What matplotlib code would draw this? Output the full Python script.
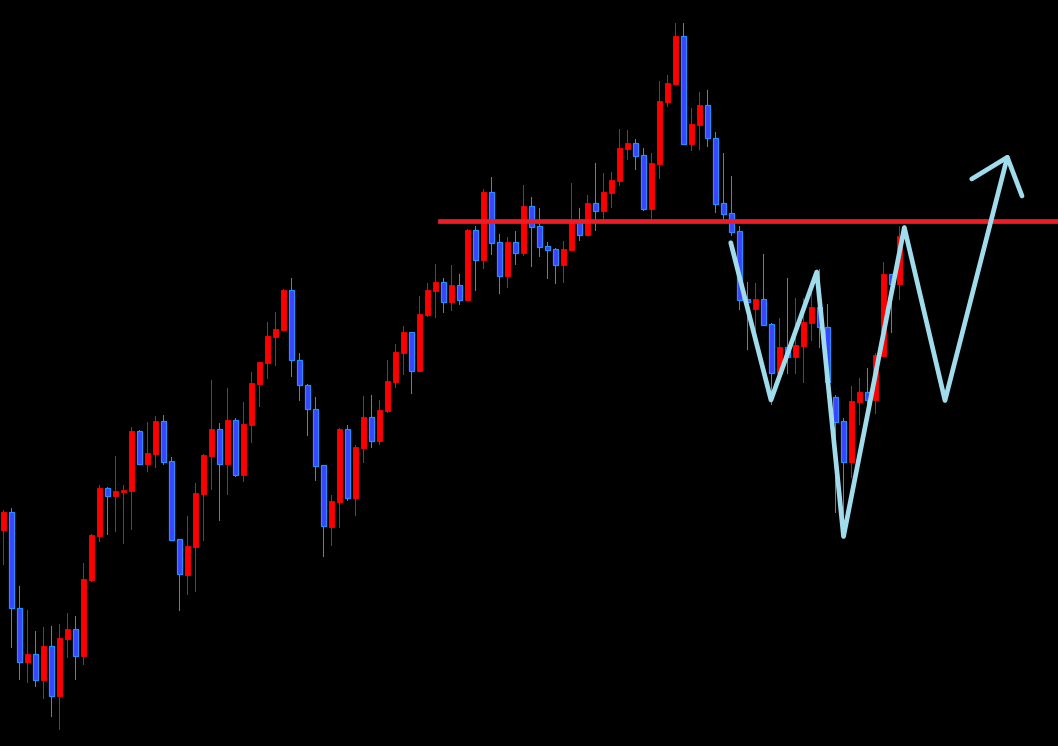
"""Candlestick chart with resistance line and W-shaped path sketch."""
import matplotlib
matplotlib.use("Agg")
import matplotlib.pyplot as plt
import numpy as np

# OHLC (price units = pixels above the bottom edge)
opens = [216.3, 233.7, 137.7, 84.3, 92, 66.3, 100, 50.3, 107.3, 117,
         90.3, 166.3, 210.3, 258, 250.3, 254.3, 255.3, 315, 282.3, 292.3,
         325, 285, 207, 171.3, 199.3, 252.3, 290.3, 317, 282.3, 326,
         271.3, 321.3, 362.3, 383.3, 409.3, 416.3, 456, 385.7, 360.7, 336.7,
         280.7, 219.3, 244.3, 317, 248.3, 298.3, 329, 305.3, 335, 364.3,
         393.3, 414, 375.3, 431.3, 455.3, 464, 444.3, 461, 446.3, 516,
         486.3, 554, 504, 470.3, 504, 493.3, 540, 520, 500, 497,
         481.3, 496.3, 526, 511.3, 543, 535.3, 553.3, 565.3, 597.3, 603,
         591, 537.3, 582.3, 644.3, 662.3, 710, 601.7, 621.3, 641, 608,
         543, 533, 515, 447, 437, 447, 422, 373.3, 399, 389.3,
         400.3, 423.3, 439, 418.7, 349, 325, 284.3, 344.3, 354, 346.3,
         390.3, 472, 462.3]
highs = [236, 237.7, 160, 136, 115, 119, 120, 122, 132.7, 130,
         183, 212, 261, 259.3, 290, 261, 319, 316, 324, 330,
         331, 289, 207, 230, 263, 292, 366, 323, 358, 328,
         344, 374, 384, 424.3, 434, 457, 468, 393, 362, 349,
         281, 251, 318, 321, 301, 350.3, 351, 346, 386, 402,
         420, 414, 450, 463, 482, 468, 481, 472, 517, 520,
         557, 569, 512, 509, 515, 561, 549, 538, 504, 498,
         505, 563, 538, 551, 583, 573, 574, 617, 616, 607,
         598, 593, 665, 671, 723, 723, 638, 654, 656, 614,
         593, 570, 520, 464, 463, 492, 423, 428, 468, 448,
         448, 453.3, 477, 442, 351, 328, 360, 368, 378, 393,
         484, 472, 520]
lows = [182.3, 99.3, 67, 64.3, 60.3, 48.3, 30.3, 17.3, 89.3, 67.3,
        82.3, 164.7, 205.3, 212.3, 215.3, 203.3, 217, 282.3, 275.3, 279.3,
        282.3, 206.3, 136, 152.3, 155.3, 206.3, 257.3, 226.3, 252.3, 270.3,
        265.3, 304.3, 340.3, 368.3, 381.3, 416.3, 370.3, 346.3, 311.3, 266.3,
        190.3, 201.3, 219.3, 246.3, 231.3, 284.3, 299.3, 302.3, 334.3, 359.3,
        372.3, 353.3, 375.3, 430.3, 429.3, 434.3, 436.3, 442.3, 446, 456.3,
        478.3, 492.3, 453.3, 459.3, 482.3, 491.3, 480.3, 490.3, 468.3, 463.3,
        464.3, 496.3, 506.3, 511.3, 516.3, 527.3, 539.3, 561.3, 587.3, 577.3,
        536.3, 527.3, 568.3, 640.3, 662.3, 601.7, 596.3, 597.3, 600.3, 534.3,
        527.3, 511.3, 437, 397.3, 416, 421.3, 342.3, 370, 373.3, 373.3,
        364.3, 406.3, 399.3, 349.3, 234.3, 226, 269, 322.3, 339, 333.3,
        390.3, 414.3, 447]
closes = [233.7, 137.7, 84.3, 92, 66.3, 100, 50.3, 108, 117, 90.3,
          167, 211, 258, 250.3, 255, 256, 315, 282.3, 293, 325,
          284, 206.3, 171.7, 200, 253, 291, 317, 282.3, 326, 271.3,
          322, 363, 384, 410, 417, 456, 385.7, 360.7, 336.7, 280.3,
          219.7, 245, 317, 248.3, 299, 329, 305.3, 336, 365, 394,
          414, 375.3, 432, 456, 464, 444.3, 461, 446.3, 516, 486.3,
          554, 503.3, 470.3, 504, 493.3, 540, 519.3, 499.3, 496.3, 481.3,
          497, 526, 511.3, 543, 535.3, 554, 566, 598, 603, 590.3,
          537.3, 583, 645, 663, 710, 601.7, 622, 641, 607.7, 542.3,
          532.3, 514.3, 446.3, 444.3, 447, 421.3, 373.3, 399, 389.3, 401,
          424, 439, 418.7, 364.5, 324.3, 284.3, 345, 354, 346.3, 391,
          472, 462.3, 510]

# resistance level and the hand-drawn projection path
resist_level = 524.7
resist_start = 54.6
path_x = [90.93, 95.96, 101.68, 105.03, 112.63, 117.71, 125.5]
path_y = [503.3, 346, 474, 209.5, 518.5, 345.5, 588.7]
arrow_x = [121.05, 125.5, 127.34]
arrow_y = [567, 588.7, 550]

UP = "#ff0000"
DOWN_FILL = "#4040ff"
DOWN_EDGE = "#1e90ff"


def main():
    fig = plt.figure(figsize=(10.58, 7.46), dpi=100, facecolor="black")
    ax = fig.add_axes([0, 0, 1, 1])
    ax.set_facecolor("black")

    o = np.array(opens); h = np.array(highs)
    l = np.array(lows); c = np.array(closes)
    x = np.arange(len(o))
    up = c >= o

    # wicks (crisp 1px)
    ax.vlines(x[up], l[up], h[up], color=UP, lw=0.5,
              antialiased=False, zorder=2)
    ax.vlines(x[~up], l[~up], h[~up], color=DOWN_EDGE, lw=0.5,
              antialiased=False, zorder=2)

    # bodies
    w = 0.6
    ax.bar(x[up], c[up] - o[up], w, bottom=o[up], color=UP,
           edgecolor=UP, linewidth=0.6, zorder=3)
    ax.bar(x[~up], o[~up] - c[~up], w, bottom=c[~up], color=DOWN_FILL,
           edgecolor=DOWN_EDGE, linewidth=0.9, zorder=3)

    # resistance line
    ax.plot([resist_start, 140], [resist_level, resist_level],
            color="#ee1c24", lw=3.4, zorder=4)

    # projected path
    ax.plot(path_x, path_y, color="#a0dcec", lw=3.4,
            solid_joinstyle="round", solid_capstyle="round", zorder=5)
    ax.plot(arrow_x, arrow_y, color="#a0dcec", lw=3.4,
            solid_joinstyle="round", solid_capstyle="round", zorder=5)

    ax.set_xlim(-3.3 / 8, (1058 - 3.3) / 8)
    ax.set_ylim(0, 746)
    ax.axis("off")

    fig.savefig("out.png", dpi=100, facecolor="black")


if __name__ == "__main__":
    main()
